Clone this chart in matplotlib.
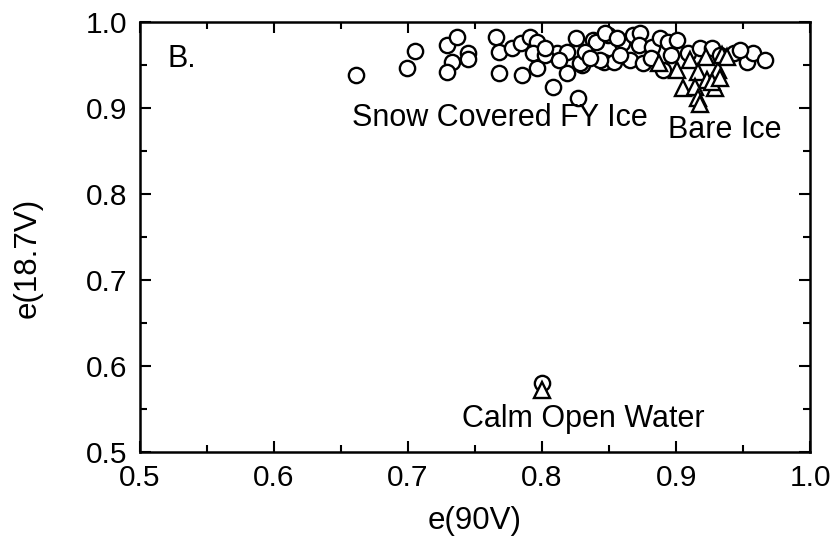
import numpy as np
import matplotlib.pyplot as plt
from matplotlib.ticker import MultipleLocator

# Snow covered first-year ice (circles)
snow_x = [0.661, 0.699, 0.705, 0.729, 0.737, 0.733, 0.729, 0.745, 0.745, 0.766,
          0.768, 0.768, 0.785, 0.778, 0.784, 0.791, 0.796, 0.793, 0.796, 0.808,
          0.827, 0.819, 0.811, 0.819, 0.825, 0.830, 0.838, 0.840, 0.849, 0.860,
          0.868, 0.828, 0.846, 0.854, 0.847, 0.856, 0.873, 0.872, 0.882, 0.888,
          0.894, 0.901, 0.843, 0.866, 0.875, 0.890, 0.909, 0.918, 0.927, 0.943,
          0.953, 0.957, 0.966, 0.802, 0.813, 0.832, 0.836, 0.858, 0.802, 0.881,
          0.896, 0.933, 0.948, 0.800]
snow_y = [0.938, 0.947, 0.966, 0.973, 0.983, 0.953, 0.942, 0.964, 0.957, 0.983,
          0.965, 0.941, 0.938, 0.970, 0.976, 0.983, 0.977, 0.964, 0.947, 0.924,
          0.912, 0.941, 0.964, 0.965, 0.981, 0.950, 0.979, 0.977, 0.985, 0.976,
          0.985, 0.952, 0.953, 0.953, 0.987, 0.981, 0.987, 0.973, 0.971, 0.981,
          0.977, 0.979, 0.956, 0.956, 0.952, 0.944, 0.964, 0.970, 0.970, 0.964,
          0.953, 0.964, 0.956, 0.962, 0.956, 0.965, 0.958, 0.962, 0.970, 0.958,
          0.962, 0.962, 0.967, 0.580]

# Bare ice (triangles)
bare_x = [0.887, 0.901, 0.910, 0.916, 0.922, 0.923, 0.931, 0.934, 0.905, 0.914,
          0.929, 0.916, 0.918, 0.927, 0.933, 0.938, 0.800]
bare_y = [0.952, 0.944, 0.956, 0.942, 0.959, 0.933, 0.944, 0.962, 0.923, 0.924,
          0.923, 0.912, 0.905, 0.930, 0.935, 0.959, 0.572]

plt.rcParams['font.family'] = ['Liberation Sans', 'DejaVu Sans']

fig = plt.figure(figsize=(8.31, 5.36), dpi=100)
ax = fig.add_axes([0.168, 0.157, 0.807, 0.802])

ax.plot(snow_x, snow_y, 'o', mfc='white', mec='black', mew=1.7, ms=11, ls='none')
ax.plot(bare_x, bare_y, '^', mfc='white', mec='black', mew=1.7, ms=11, ls='none')

ax.set_xlim(0.5, 1.0)
ax.set_ylim(0.5, 1.0)
ax.xaxis.set_major_locator(MultipleLocator(0.1))
ax.xaxis.set_minor_locator(MultipleLocator(0.05))
ax.yaxis.set_major_locator(MultipleLocator(0.1))
ax.yaxis.set_minor_locator(MultipleLocator(0.05))
ax.xaxis.set_major_formatter(plt.FormatStrFormatter('%.1f'))
ax.yaxis.set_major_formatter(plt.FormatStrFormatter('%.1f'))
ax.tick_params(which='both', direction='in', top=True, right=True, labelsize=21.5, width=1.5)
ax.tick_params(which='major', length=8)
ax.tick_params(which='minor', length=5)
ax.tick_params(axis='y', pad=9)
ax.tick_params(axis='x', pad=9)
for s in ax.spines.values():
    s.set_linewidth(1.8)

ax.set_xlabel('e(90V)', fontsize=22.5, labelpad=10)
ax.set_ylabel('e(18.7V)', fontsize=22.5)
ax.yaxis.set_label_coords(-0.145, 0.451)

ax.text(0.521, 0.957, 'B.', fontsize=22, va='center', ha='left')
ax.text(0.658, 0.888, 'Snow Covered FY Ice', fontsize=22, va='center', ha='left')
ax.text(0.894, 0.874, 'Bare Ice', fontsize=22, va='center', ha='left')
ax.text(0.831, 0.538, 'Calm Open Water', fontsize=22, va='center', ha='center')

fig.savefig('out.png', dpi=100)
